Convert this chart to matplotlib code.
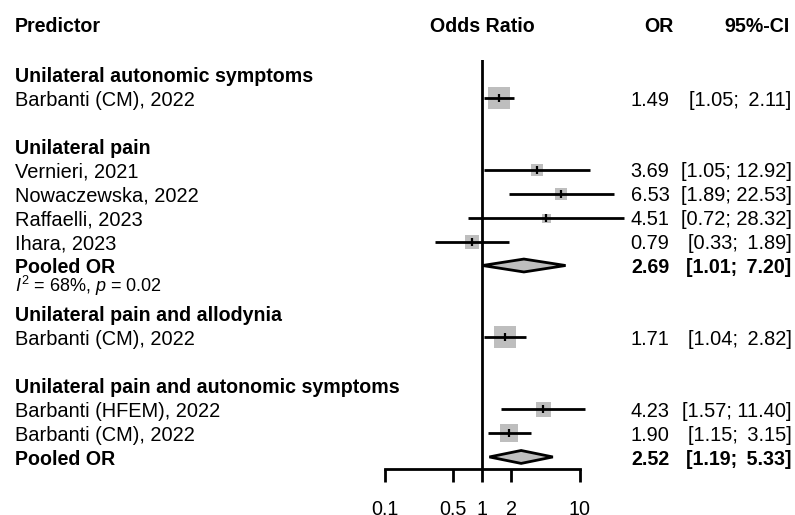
import matplotlib
matplotlib.use("Agg")
import matplotlib.pyplot as plt
import matplotlib.transforms as mtransforms

plt.rcParams['font.family'] = ['Liberation Sans', 'DejaVu Sans']
plt.rcParams['mathtext.fontset'] = 'custom'
plt.rcParams['mathtext.rm'] = 'Liberation Sans'
plt.rcParams['mathtext.it'] = 'Liberation Sans:italic'

# ---------------- data ----------------
groups = ["Unilateral autonomic symptoms", "Unilateral pain",
          "Unilateral pain and allodynia", "Unilateral pain and autonomic symptoms"]
group_rows = [-1, 2, 9, 12]

studies = ["Barbanti (CM), 2022", "Vernieri, 2021", "Nowaczewska, 2022", "Raffaelli, 2023",
           "Ihara, 2023", "Barbanti (CM), 2022", "Barbanti (HFEM), 2022", "Barbanti (CM), 2022"]
study_rows = [0, 3, 4, 5, 6, 10, 13, 14]
or_vals = [1.49, 3.69, 6.53, 4.51, 0.79, 1.71, 4.23, 1.90]
ci_low = [1.05, 1.05, 1.89, 0.72, 0.33, 1.04, 1.57, 1.15]
ci_high = [2.11, 12.92, 22.53, 28.32, 1.89, 2.82, 11.40, 3.15]
weights = [22, 12, 12, 9, 14, 22, 15, 18]   # relative box sizes

pooled_labels = ["Pooled OR", "Pooled OR"]
pooled_rows = [7, 15]
pooled_or = [2.69, 2.52]
pooled_low = [1.01, 1.19]
pooled_high = [7.20, 5.33]

het_row = 7.8
het_text = "$\\mathit{I}^2$ = 68%, $\\mathit{p}$ = 0.02"

x_ticks = [0.1, 0.5, 1, 2, 10]
x_tick_labels = ["0.1", "0.5", "1", "2", "10"]

headers = ["Predictor", "Odds Ratio", "OR", "95%-CI"]

# ---------------- figure ----------------
W, H = 795, 515
fig = plt.figure(figsize=(W / 100, H / 100), dpi=100)

ax_left, ax_right = 384.5, 579.5
ax_top, ax_bottom = 60, 468.5
ax = fig.add_axes([ax_left / W, 1 - ax_bottom / H, (ax_right - ax_left) / W, (ax_bottom - ax_top) / H])
ax.set_xscale('log')
ax.set_xlim(0.1, 10)
row0, row_h = 98.0, 23.93
ax.set_ylim((ax_bottom - row0) / row_h, (ax_top - row0) / row_h)

lw = 2.0
for s in ['top', 'right', 'left']:
    ax.spines[s].set_visible(False)
ax.spines['bottom'].set_linewidth(lw)
ax.spines['bottom'].set_capstyle('projecting')
ax.set_yticks([])
ax.set_xticks(x_ticks)
ax.set_xticklabels(x_tick_labels)
ax.xaxis.set_minor_locator(matplotlib.ticker.NullLocator())
ax.tick_params(axis='x', direction='out', length=9.4, width=lw, pad=13.0, labelsize=14.2)
ax.patch.set_visible(False)

ax.axvline(1, color='black', lw=lw, zorder=1)

grey = '#BEBEBE'
# study boxes and CIs
for y, est, lo, hi, w in zip(study_rows, or_vals, ci_low, ci_high, weights):
    ax.plot([est], [y], marker='s', ms=w * 0.72, color=grey, mew=0, ls='none',
            clip_on=False, zorder=2)
    ax.plot([lo, hi], [y, y], color='black', lw=lw, clip_on=False, zorder=3,
            solid_capstyle='butt')
    ax.plot([est], [y], marker='|', ms=5.5, mew=1.6, color='black', ls='none',
            clip_on=False, zorder=4)

# pooled diamonds
dh = 0.27
for y, est, lo, hi in zip(pooled_rows, pooled_or, pooled_low, pooled_high):
    ax.fill([lo, est, hi, est], [y, y - dh, y, y + dh], facecolor=grey,
            edgecolor='black', lw=lw, clip_on=False, zorder=3)

# ---------------- text ----------------
fs = 14.4
fsb = 14.1
base_off = mtransforms.ScaledTranslation(0, -7.7 / 100, fig.dpi_scale_trans)
tr = mtransforms.blended_transform_factory(fig.transFigure, ax.transData) + base_off


def put(xpx, y, s, ha='left', bold=False, size=None):
    if size is None:
        size = fsb if bold else fs
    fig.text(xpx / W, y, s, transform=tr, ha=ha, va='baseline', fontsize=size,
             fontweight='bold' if bold else 'normal')


x_lab = 15
x_or = 669.5
x_ci = 791.5

hy = -3.07
put(x_lab, hy, headers[0], bold=True)
put((ax_left + ax_right) / 2, hy, headers[1], ha='center', bold=True)
put(673.3, hy, headers[2], ha='right', bold=True)
put(789.5, hy, headers[3], ha='right', bold=True)

for g, y in zip(groups, group_rows):
    put(x_lab, y, g, bold=True)


def ci_str(lo, hi):
    sep = "; " if hi >= 10 else ";\u2009 "
    return f"[{lo:.2f}{sep}{hi:.2f}]"


for name, y, est, lo, hi in zip(studies, study_rows, or_vals, ci_low, ci_high):
    put(x_lab, y, name)
    put(x_or, y, f"{est:.2f}", ha='right')
    put(x_ci, y, ci_str(lo, hi), ha='right')

for name, y, est, lo, hi in zip(pooled_labels, pooled_rows, pooled_or, pooled_low, pooled_high):
    put(x_lab, y, name, bold=True)
    put(670, y, f"{est:.2f}", ha='right', bold=True)
    put(x_ci, y, ci_str(lo, hi), ha='right', bold=True)

put(x_lab, het_row, het_text, size=13)

fig.savefig("out.png", dpi=100)
